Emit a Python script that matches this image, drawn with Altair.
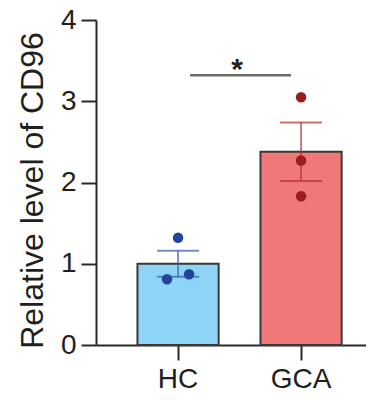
import altair as alt
import pandas as pd

groups = ["HC", "GCA"]
bar_means = [1.0, 2.38]
bar_sem = [0.16, 0.36]
point_group = ["HC", "HC", "HC", "GCA", "GCA", "GCA"]
point_values = [1.32, 0.81, 0.87, 3.05, 2.27, 1.83]
point_dodge = [0, -1, 1, 0, 0, 0]
sig_from, sig_to = "HC", "GCA"
sig_level = [3.32]
sig_label = ["*"]
y_ticks = [0, 1, 2, 3, 4]

bar_colors = ["#8dd4f6", "#ef7878"]
point_colors = ["#23449a", "#9a1d1b"]
err_colors = ["#3a5ca8", "#b3302e"]

bars_df = pd.DataFrame({"group": groups, "mean": bar_means, "sem": bar_sem})
bars_df["lo"] = bars_df["mean"] - bars_df["sem"]
bars_df["hi"] = bars_df["mean"] + bars_df["sem"]
pts_df = pd.DataFrame({"group": point_group, "value": point_values, "dodge": point_dodge})
sig_df = pd.DataFrame({"g1": [sig_from], "g2": [sig_to], "y": sig_level, "label": sig_label})

FONT = "Liberation Sans"
AX = "#2b2825"
TXT = "#231f20"
DODGE_PX = 11

xscale = alt.Scale(domain=groups, paddingInner=0.34, paddingOuter=0.2675, align=0.63)
yscale = alt.Scale(domain=[0, 4], nice=False)

x_enc = alt.X("group:N", scale=xscale, sort=groups,
              axis=alt.Axis(title=None, labelAngle=0, tickSize=15, tickWidth=2,
                            domainWidth=2, domainColor=AX, tickColor=AX,
                            labelFontSize=28, labelFont=FONT, labelColor=TXT,
                            labelPadding=5))
y_axis = alt.Axis(title="Relative level of CD96", values=y_ticks, format="d", grid=False,
                  tickSize=15, tickWidth=2, domainWidth=2, domainColor=AX, tickColor=AX,
                  labelFontSize=28, labelFont=FONT, labelColor=TXT, labelPadding=5,
                  titleFontSize=32, titleFont=FONT, titleFontWeight="normal",
                  titleColor=TXT, titleLimit=400, titleAngle=270,
                  titleX=-54, titleY=170, titleAlign="center", titleBaseline="alphabetic")

bars = alt.Chart(bars_df).mark_bar(stroke="#3b3836", strokeWidth=2).encode(
    x=x_enc,
    y=alt.Y("mean:Q", scale=yscale, axis=y_axis),
    fill=alt.Fill("group:N", scale=alt.Scale(domain=groups, range=bar_colors), legend=None),
)

err_color = alt.Color("group:N", scale=alt.Scale(domain=groups, range=err_colors), legend=None)
err_line = alt.Chart(bars_df).mark_rule(strokeWidth=1.8, opacity=0.7).encode(
    x=alt.X("group:N", scale=xscale, sort=groups),
    y=alt.Y("lo:Q", scale=yscale), y2="hi:Q", color=err_color)
cap_hi = alt.Chart(bars_df).mark_tick(size=42, thickness=2).encode(
    x=alt.X("group:N", scale=xscale, sort=groups),
    y=alt.Y("hi:Q", scale=yscale), color=err_color)
cap_lo = alt.Chart(bars_df).mark_tick(size=42, thickness=2).encode(
    x=alt.X("group:N", scale=xscale, sort=groups),
    y=alt.Y("lo:Q", scale=yscale), color=err_color)

pt_color = alt.Color("group:N", scale=alt.Scale(domain=groups, range=point_colors), legend=None)
point_layers = []
for d in sorted(set(point_dodge)):
    point_layers.append(
        alt.Chart(pts_df).transform_filter(alt.datum.dodge == d)
        .mark_circle(size=110, opacity=1, xOffset=d * DODGE_PX).encode(
            x=alt.X("group:N", scale=xscale, sort=groups),
            y=alt.Y("value:Q", scale=yscale),
            color=pt_color)
    )

sig_line = alt.Chart(sig_df).mark_rule(strokeWidth=2.5, color="#6e6a66", xOffset=12, x2Offset=-10).encode(
    x=alt.X("g1:N", scale=xscale, sort=groups), x2="g2:N",
    y=alt.Y("y:Q", scale=yscale))
sig_text = alt.Chart(sig_df).mark_text(fontSize=30, fontWeight="bold", font=FONT, color=TXT,
                                       baseline="alphabetic", align="center", dx=59, dy=4).encode(
    x=alt.X("g1:N", scale=xscale, sort=groups),
    y=alt.Y("y:Q", scale=yscale), text="label:N")

chart = alt.layer(bars, err_line, cap_hi, cap_lo, *point_layers, sig_line, sig_text).resolve_scale(
    color="independent"
).properties(
    width=270, height=325,
    autosize=alt.AutoSizeParams(type="none"),
    padding={"left": 88, "top": 12, "right": 0, "bottom": 47},
    background="white",
).configure_view(stroke=None)

chart.save("out.html", embed_options={"renderer": "svg", "actions": False})
